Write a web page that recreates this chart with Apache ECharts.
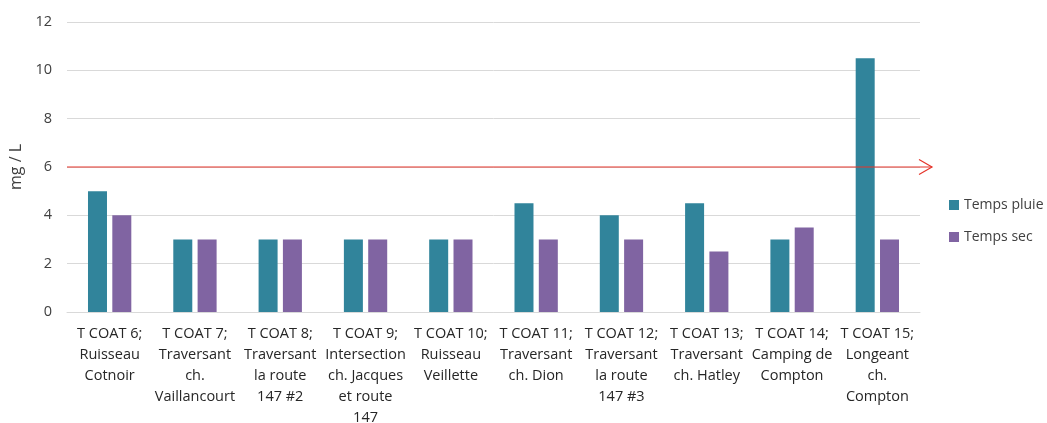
<!DOCTYPE html>
<html>
<head>
<meta charset="utf-8">
<script src="https://cdn.jsdelivr.net/npm/echarts@6/dist/echarts.min.js"></script>
<style>
html, body { margin: 0; padding: 0; background: #fff; }
#chart { width: 1047px; height: 423px; }
</style>
</head>
<body>
<div id="chart"></div>
<script>
var categories = [
    'T COAT 6;\nRuisseau\nCotnoir',
    'T COAT 7;\nTraversant\nch.\nVaillancourt',
    'T COAT 8;\nTraversant\nla route\n147 #2',
    'T COAT 9;\nIntersection\nch. Jacques\net route\n147',
    'T COAT 10;\nRuisseau\nVeillette',
    'T COAT 11;\nTraversant\nch. Dion',
    'T COAT 12;\nTraversant\nla route\n147 #3',
    'T COAT 13;\nTraversant\nch. Hatley',
    'T COAT 14;\nCamping de\nCompton',
    'T COAT 15;\nLongeant\nch.\nCompton'
];
var tempsPluie = [5, 3, 3, 3, 3, 4.5, 4, 4.5, 3, 10.5];
var tempsSec = [4, 3, 3, 3, 3, 3, 3, 2.5, 3.5, 3];
var seuil = 6;

var font = 'Open Sans';
var red = '#e5342a';
var myChart = echarts.init(document.getElementById('chart'));

// threshold line across the grid, running a bit past it, with an open arrowhead
function renderSeuil(params, api) {
    var y = api.coord([0, api.value(1)])[1];
    var x0 = params.coordSys.x;
    var x1 = params.coordSys.x + params.coordSys.width + 12;
    var stroke = { stroke: red, lineWidth: 1.2, fill: null };
    return {
        type: 'group',
        children: [
            { type: 'line', shape: { x1: x0, y1: y, x2: x1, y2: y }, style: stroke },
            { type: 'polyline', shape: { points: [[x1 - 13, y - 7.5], [x1, y], [x1 - 13, y + 7.5]] }, style: stroke }
        ]
    };
}

var option = {
    animation: false,
    textStyle: { fontFamily: font },
    grid: {
        left: 67, right: 127, top: 22, bottom: 111,
        containLabel: false,
        outerBoundsMode: 'none'
    },
    legend: {
        orient: 'vertical',
        left: 944,
        top: 193,
        itemWidth: 10,
        itemHeight: 10,
        itemGap: 18,
        icon: 'rect',
        textStyle: { fontFamily: font, fontSize: 14, color: '#404040' },
        data: ['Temps pluie', 'Temps sec']
    },
    xAxis: {
        type: 'category',
        data: categories,
        axisTick: { show: false },
        axisLine: { lineStyle: { color: '#d9d9d9' } },
        axisLabel: {
            interval: 0,
            margin: 11,
            fontFamily: font,
            fontSize: 14.5,
            lineHeight: 21,
            color: '#262626'
        }
    },
    yAxis: {
        type: 'value',
        min: 0,
        max: 12,
        interval: 2,
        name: 'mg / L',
        nameLocation: 'middle',
        nameGap: 41,
        nameTextStyle: { fontFamily: font, fontSize: 16, color: '#404040' },
        axisLabel: { fontFamily: font, fontSize: 14.5, color: '#404040', margin: 15 },
        splitLine: { lineStyle: { color: '#d9d9d9' } }
    },
    series: [
        {
            name: 'Temps pluie',
            type: 'bar',
            data: tempsPluie,
            barWidth: 19,
            barGap: '28%',
            itemStyle: { color: '#31849b' }
        },
        {
            name: 'Temps sec',
            type: 'bar',
            data: tempsSec,
            barWidth: 19,
            barGap: '28%',
            itemStyle: { color: '#8064a2' }
        },
        {
            name: 'Seuil',
            type: 'custom',
            renderItem: renderSeuil,
            data: [[0, seuil]],
            z: 5,
            silent: true
        }
    ]
};

myChart.setOption(option);
</script>
</body>
</html>
